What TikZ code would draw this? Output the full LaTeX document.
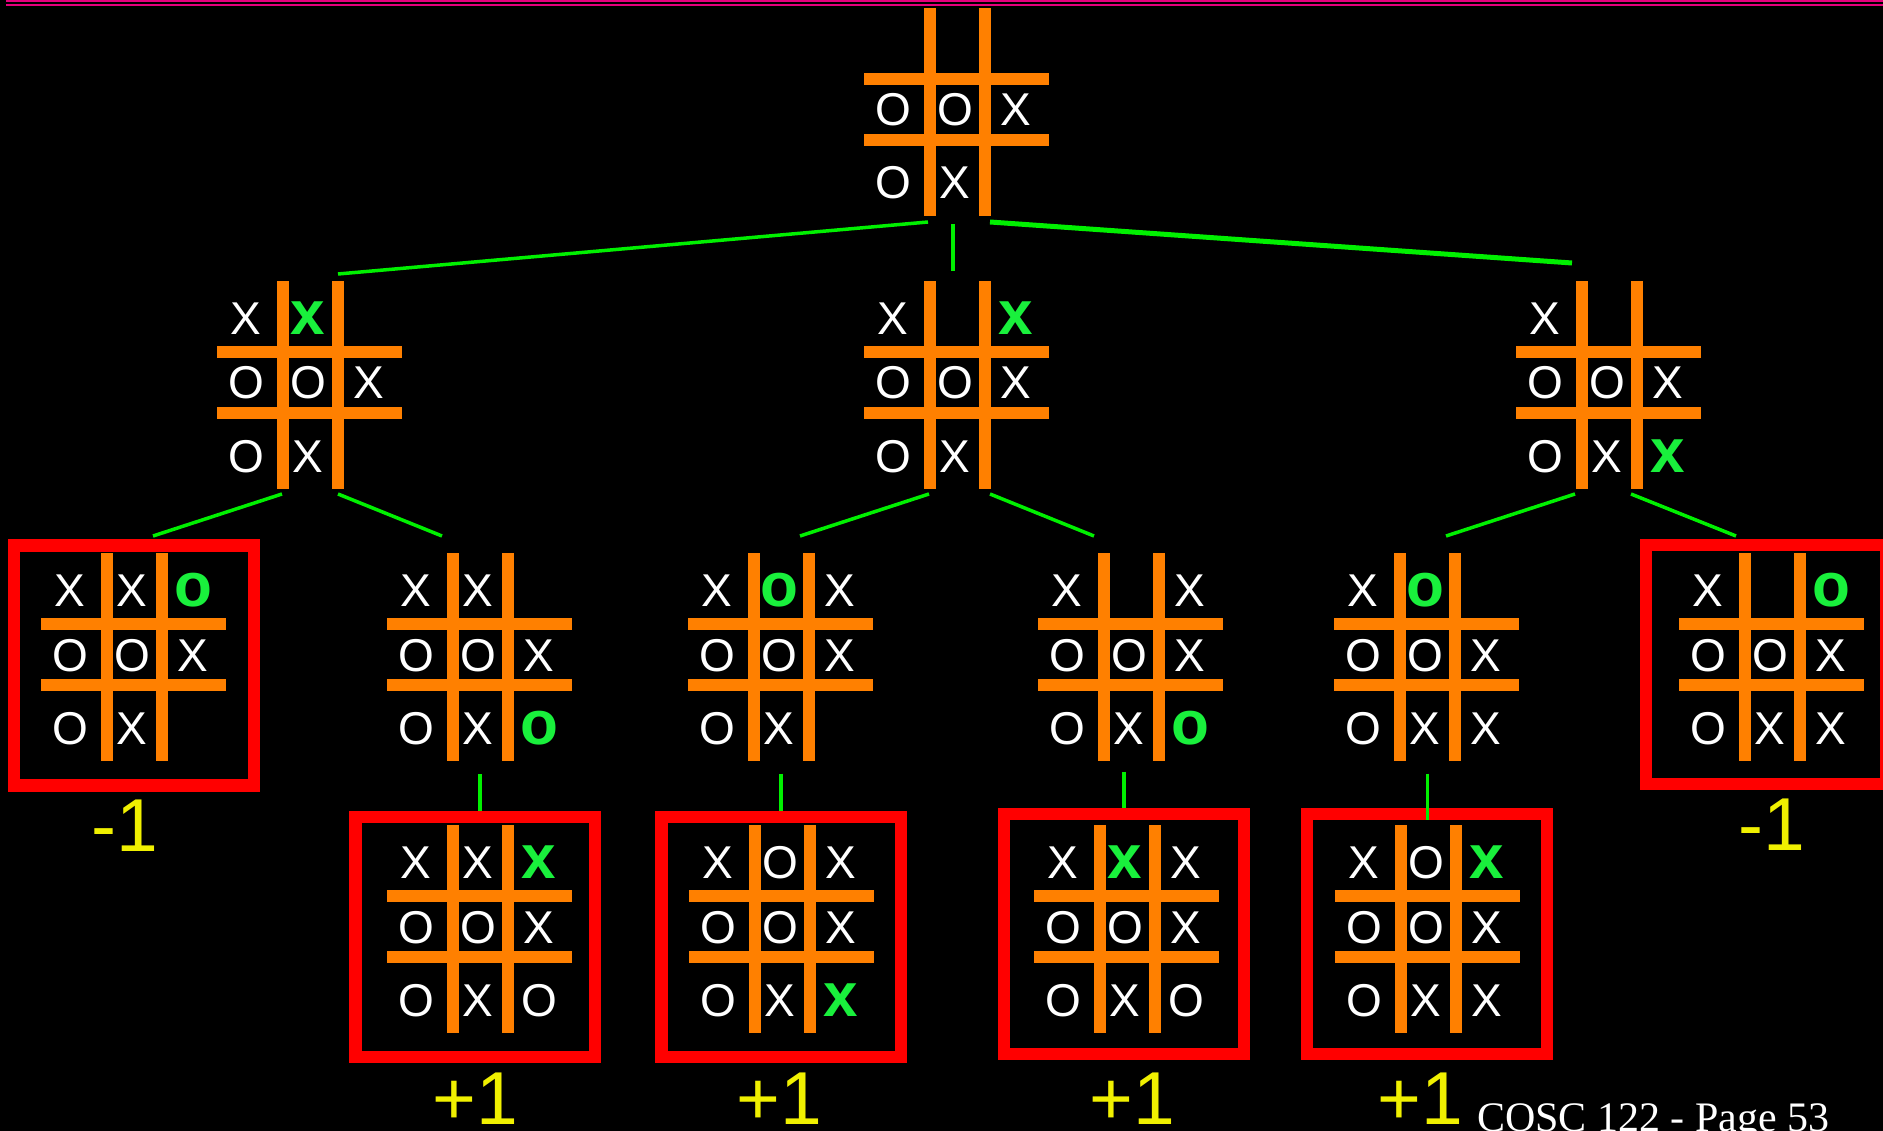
\documentclass[tikz,border=0pt]{standalone}
\usepackage{fontspec}
\setmainfont{Liberation Sans}
\newfontfamily\footfont{Liberation Serif}
\definecolor{topline}{RGB}{230,0,125}
\definecolor{barorange}{RGB}{255,128,0}
\definecolor{linegreen}{RGB}{0,240,0}
\definecolor{markgreen}{RGB}{25,240,60}
\definecolor{boxred}{RGB}{255,0,0}
\definecolor{valyellow}{RGB}{240,240,0}
\tikzset{
  bar/.style={fill=barorange},
  markw/.style={text=white, font=\fontsize{46}{46}\selectfont, inner sep=0pt, anchor=base},
  markg/.style={text=markgreen, font=\fontsize{62}{62}\selectfont\bfseries, inner sep=0pt, anchor=base},
  conn/.style={draw=linegreen, line width=3.5pt},
  connthick/.style={draw=linegreen, line width=5pt},
  redbox/.style={draw=boxred, line width=12.3pt},
  val/.style={text=valyellow, font=\fontsize{75}{75}\selectfont, inner sep=0pt, anchor=base west},
  boardarea/.style={minimum width=185pt, minimum height=208pt, inner sep=0pt, anchor=north west},
}
\newcount\mkcount
% #1 name, #2 L, #3 T, #4 marks list col/row/letter/w|g
\newcommand\tttboard[4]{%
  \node[boardarea] (#1) at (#2,#3) {};
  \begin{scope}[shift={(#2,#3)}]
    \fill[bar] (60,0) rectangle (72,208);
    \fill[bar] (115,0) rectangle (127,208);
    \fill[bar] (0,65) rectangle (185,77);
    \fill[bar] (0,126) rectangle (185,138);
    \foreach \c/\r/\t/\s in {#4} {
      \pgfmathsetmacro\xx{\c==1 ? 29 : (\c==2 ? 91 : 152)}
      \pgfmathsetmacro\yy{\r==1 ? 53.5 : (\r==2 ? 118 : 191)}
      \global\advance\mkcount by 1
      \node[mark\s] (mk\the\mkcount) at (\xx,\yy) {\t};
    }
  \end{scope}}
\begin{document}
\begin{tikzpicture}[x=1pt,y=-1pt]
\useasboundingbox (0,0) rectangle (1883,1131);
\clip (0,0) rectangle (1883,1131);
\fill[black] (0,0) rectangle (1883,1131);
\fill[topline] (6,0) rectangle (1883,2);
\fill[topline] (6,4) rectangle (1883,6);

% level 1
\tttboard{b0}{864}{8}{1/2/O/w, 2/2/O/w, 3/2/X/w, 1/3/O/w, 2/3/X/w}
% level 2
\tttboard{b1}{217}{281}{1/1/X/w, 2/1/x/g, 1/2/O/w, 2/2/O/w, 3/2/X/w, 1/3/O/w, 2/3/X/w}
\tttboard{b2}{864}{281}{1/1/X/w, 3/1/x/g, 1/2/O/w, 2/2/O/w, 3/2/X/w, 1/3/O/w, 2/3/X/w}
\tttboard{b3}{1516}{281}{1/1/X/w, 1/2/O/w, 2/2/O/w, 3/2/X/w, 1/3/O/w, 2/3/X/w, 3/3/x/g}
% level 3
\tttboard{b11}{41}{553}{1/1/X/w, 2/1/X/w, 3/1/o/g, 1/2/O/w, 2/2/O/w, 3/2/X/w, 1/3/O/w, 2/3/X/w}
\tttboard{b12}{387}{553}{1/1/X/w, 2/1/X/w, 1/2/O/w, 2/2/O/w, 3/2/X/w, 1/3/O/w, 2/3/X/w, 3/3/o/g}
\tttboard{b21}{688}{553}{1/1/X/w, 2/1/o/g, 3/1/X/w, 1/2/O/w, 2/2/O/w, 3/2/X/w, 1/3/O/w, 2/3/X/w}
\tttboard{b22}{1038}{553}{1/1/X/w, 3/1/X/w, 1/2/O/w, 2/2/O/w, 3/2/X/w, 1/3/O/w, 2/3/X/w, 3/3/o/g}
\tttboard{b31}{1334}{553}{1/1/X/w, 2/1/o/g, 1/2/O/w, 2/2/O/w, 3/2/X/w, 1/3/O/w, 2/3/X/w, 3/3/X/w}
\tttboard{b32}{1679}{553}{1/1/X/w, 3/1/o/g, 1/2/O/w, 2/2/O/w, 3/2/X/w, 1/3/O/w, 2/3/X/w, 3/3/X/w}
% level 4
\tttboard{b121}{387}{825}{1/1/X/w, 2/1/X/w, 3/1/x/g, 1/2/O/w, 2/2/O/w, 3/2/X/w, 1/3/O/w, 2/3/X/w, 3/3/O/w}
\tttboard{b211}{689}{825}{1/1/X/w, 2/1/O/w, 3/1/X/w, 1/2/O/w, 2/2/O/w, 3/2/X/w, 1/3/O/w, 2/3/X/w, 3/3/x/g}
\tttboard{b221}{1034}{825}{1/1/X/w, 2/1/x/g, 3/1/X/w, 1/2/O/w, 2/2/O/w, 3/2/X/w, 1/3/O/w, 2/3/X/w, 3/3/O/w}
\tttboard{b311}{1335}{825}{1/1/X/w, 2/1/O/w, 3/1/x/g, 1/2/O/w, 2/2/O/w, 3/2/X/w, 1/3/O/w, 2/3/X/w, 3/3/X/w}

% red boxes (terminal states)
\draw[redbox] (14.3,545.5) rectangle (254.2,785.5);
\draw[redbox] (1646,544.7) rectangle (1886,784.3);
\draw[redbox] (355.5,817) rectangle (595.2,1056.8);
\draw[redbox] (661.5,817) rectangle (901.2,1056.8);
\draw[redbox] (1003.8,814.3) rectangle (1243.7,1053.7);
\draw[redbox] (1306.8,814.3) rectangle (1546.7,1053.7);

% connector end points
\coordinate (p0a) at (928,222);   \coordinate (p1a) at (338,274);
\coordinate (p0b) at (953,224);   \coordinate (p2a) at (953,271);
\coordinate (p0c) at (990,222);   \coordinate (p3a) at (1572,263);
\coordinate (p1b) at (282,494);   \coordinate (p11) at (153,536);
\coordinate (p1c) at (338,494);   \coordinate (p12) at (442,536);
\coordinate (p2b) at (929,494);   \coordinate (p21) at (800,536);
\coordinate (p2c) at (990,494);   \coordinate (p22) at (1094,536);
\coordinate (p3b) at (1575,494);  \coordinate (p31) at (1446,536);
\coordinate (p3c) at (1631,494);  \coordinate (p32) at (1736,536);
\coordinate (p12b) at (480,774);  \coordinate (p121) at (480,811);
\coordinate (p21b) at (781,773.5); \coordinate (p211) at (781,811);
\coordinate (p22b) at (1124,771.5); \coordinate (p221) at (1124,808);
\coordinate (p31b) at (1427.7,773.5); \coordinate (p311) at (1427.7,820);

\draw[conn] (p0a) -- (p1a);
\draw[conn] (p0b) -- (p2a);
\draw[connthick] (p0c) -- (p3a);
\draw[conn] (p1b) -- (p11);
\draw[conn] (p1c) -- (p12);
\draw[conn] (p2b) -- (p21);
\draw[conn] (p2c) -- (p22);
\draw[conn] (p3b) -- (p31);
\draw[conn] (p3c) -- (p32);
\draw[conn] (p12b) -- (p121);
\draw[conn] (p21b) -- (p211);
\draw[conn] (p22b) -- (p221);
\draw[conn] (p31b) -- (p311);

% values
\node[val] (v11) at (91.7,851.7) {-1};
\node[val] (v32) at (1738.4,850) {-1};
\node[val] (v121) at (432,1124) {+1};
\node[val] (v211) at (736,1124) {+1};
\node[val] (v221) at (1089,1124) {+1};
\node[val] (v311) at (1377,1124) {+1};

% footer
\node[text=white, font=\footfont\fontsize{42}{42}\selectfont, inner sep=0pt, anchor=base west] (footer) at (1477,1131) {COSC 122 - Page 53};
\end{tikzpicture}
\end{document}
